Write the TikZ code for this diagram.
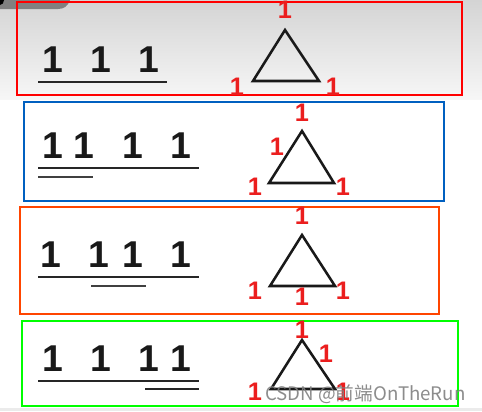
\documentclass[tikz,border=0pt]{standalone}
\usepackage{fontspec}
\setmainfont{Liberation Sans}
\newfontfamily\cjk{Noto Sans CJK SC}
\definecolor{bgtop}{RGB}{212,212,212}
\definecolor{bgbot}{RGB}{247,247,247}
\definecolor{tabgray}{RGB}{128,128,128}
\definecolor{boxred}{RGB}{255,0,0}
\definecolor{boxblue}{RGB}{0,96,192}
\definecolor{boxorange}{RGB}{255,69,0}
\definecolor{boxgreen}{RGB}{0,255,0}
\definecolor{markred}{RGB}{235,30,30}

\begin{document}
\begin{tikzpicture}
        [   x=0.75pt, y=-0.75pt,
            Digit/.style=
            {anchor=base, inner sep=0pt, text=black!90, font=\bfseries\fontsize{28}{28}\selectfont},
            Mark/.style=
            {inner sep=0pt, text=markred, font=\bfseries\fontsize{19}{19}\selectfont},
            Panel/.style=
            {line width=0.9pt},
            Bar/.style=
            {line width=1.8pt, black!85},
            SubBar/.style=
            {line width=1.3pt, black!75},
            Tri/.style=
            {line width=1.9pt, line join=miter, black!90}
        ]
            \useasboundingbox (0,0) rectangle (482,411);
            % screenshot background
            \shade[top color=bgtop, bottom color=bgbot] (0,0) rectangle (482,100);
            \fill[white] (0,100) rectangle (482,408);
            \fill[black!8] (0,408) rectangle (482,411);
            \fill[tabgray] (0,0) -- (70,0) .. controls (68,6) and (64,9) .. (58,9) -- (0,9) -- cycle;
            \fill[black] (0,0) ellipse (4 and 5);

            % panel 1
            \draw[Panel, boxred] (17,2) rectangle (462,95);
            \foreach \x [count=\i] in {53,101,149}
                \node[Digit] (d1_\i) at (\x,72) {1};
            \draw[Bar] (38,82) -- (167,82);
            \draw[Tri] (285,30) -- (253,81) -- (319,81) -- cycle;
            \node[Mark] (m1_t) at (285,10) {1};
            \node[Mark] (m1_l) at (237,87) {1};
            \node[Mark] (m1_r) at (333,87) {1};

            % panel 2
            \draw[Panel, boxblue] (24,102) rectangle (444,201);
            \foreach \x [count=\i] in {53,84,133,181}
                \node[Digit] (d2_\i) at (\x,158) {1};
            \draw[Bar] (38,168) -- (199,168);
            \draw[SubBar] (38,177) -- (93,177);
            \draw[Tri] (302,131) -- (269,183) -- (334,183) -- cycle;
            \node[Mark] (m2_t) at (302,113) {1};
            \node[Mark] (m2_s) at (277,147) {1};
            \node[Mark] (m2_l) at (255,187) {1};
            \node[Mark] (m2_r) at (343,187) {1};

            % panel 3
            \draw[Panel, boxorange] (20,207) rectangle (439,314);
            \foreach \x [count=\i] in {51,99,133,181}
                \node[Digit] (d3_\i) at (\x,267) {1};
            \draw[Bar] (38,277) -- (199,277);
            \draw[SubBar] (91,286) -- (146,286);
            \draw[Tri] (302,235) -- (270,286) -- (335,286) -- cycle;
            \node[Mark] (m3_t) at (302,216) {1};
            \node[Mark] (m3_l) at (255,291) {1};
            \node[Mark] (m3_b) at (302,297) {1};
            \node[Mark] (m3_r) at (343,291) {1};

            % panel 4
            \draw[Panel, boxgreen] (22,321) rectangle (458,406);
            \foreach \x [count=\i] in {53,101,149,181}
                \node[Digit] (d4_\i) at (\x,371) {1};
            \draw[Bar] (38,381) -- (199,381);
            \draw[Bar] (145,389) -- (199,389);
            \draw[Tri] (302,340) -- (271,389) -- (335,389) -- cycle;
            \node[Mark] (m4_t) at (302,330) {1};
            \node[Mark] (m4_s) at (326,354) {1};
            \node[Mark] (m4_l) at (255,392) {1};
            \node[Mark] (m4_r) at (343,392) {1};

            % watermark
            \node[anchor=base west, inner sep=0pt, text=black!50, opacity=0.9,
                  font=\cjk\fontsize{14}{14}\selectfont] (wm) at (265,400) {CSDN @前端OnTheRun};
    \end{tikzpicture}
\end{document}
